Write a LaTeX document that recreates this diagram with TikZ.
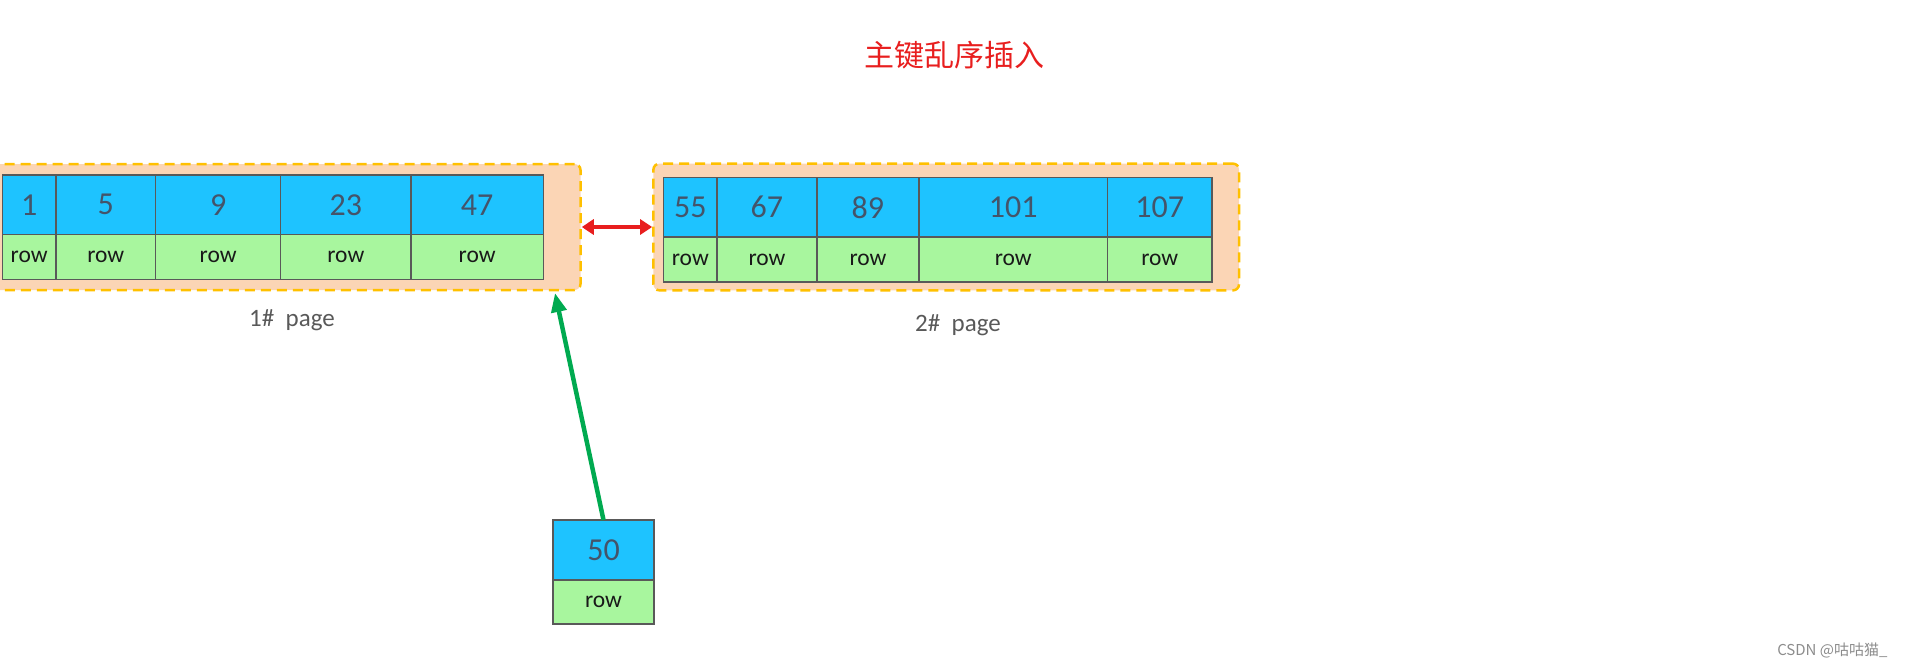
\documentclass[tikz,border=0pt]{standalone}
\usepackage{fontspec}
\setmainfont{Carlito}
\newfontfamily\cjk{Noto Sans CJK SC}
\usetikzlibrary{positioning, arrows.meta, calc}
\definecolor{keyblue}{RGB}{30,195,255}
\definecolor{rowgreen}{RGB}{168,246,158}
\definecolor{pagepeach}{RGB}{251,213,181}
\definecolor{pageedge}{RGB}{255,192,0}
\definecolor{numgrey}{RGB}{68,84,106}
\definecolor{cellline}{RGB}{89,89,89}
\definecolor{titlered}{RGB}{232,30,30}
\definecolor{arrowgreen}{RGB}{0,170,80}
\tikzset{
    cell/.style={draw=cellline, line width=1.3pt, inner sep=0pt, outer sep=0pt},
    keycell/.style={cell, fill=keyblue, text=numgrey, minimum width=#1, minimum height=59.5pt,
      font=\fontsize{32}{32}\selectfont},
    rowcell/.style={cell, fill=rowgreen, text=black!90, minimum width=#1, minimum height=45pt,
      font=\fontsize{23.5}{24}\selectfont},
    pagebox/.style={draw=pageedge, fill=pagepeach, line width=2.5pt, dash pattern=on 10pt off 6pt,
      rounded corners=6pt, inner sep=0pt},
    pagelabel/.style={text=black!65, font=\fontsize{25}{25}\selectfont},
}

\begin{document}
\begin{tikzpicture}[x=1pt, y=-1pt]
    \tikzset{
      linkarrow/.style={draw=titlered, line width=4pt, {Triangle[length=12pt, width=15pt]}-{Triangle[length=12pt, width=15pt]}},
      newarrow/.style={draw=arrowgreen, line width=4.5pt, -{Triangle[length=19pt, width=15pt]}}
    }
    \useasboundingbox (0,0) rectangle (1906,667);

    \node[text=titlered, font=\cjk\fontsize{30}{30}\selectfont] (title) at (954,55) {主键乱序插入};

    % pages
    \node[pagebox, minimum width=590.5pt, minimum height=126pt] (page1) at (285.25,227) {};
    \node[pagebox, minimum width=585.6pt, minimum height=126.7pt] (page2) at (946.2,227) {};

    \node[keycell=53.5pt, anchor=north west] (x1) at (2.4,175) {1};
    \node[keycell=99.7pt, right=0pt of x1] (x2) {5};
    \node[keycell=125.2pt, right=0pt of x2] (x3) {9};
    \node[keycell=130.1pt, right=0pt of x3] (x4) {23};
    \node[keycell=132.5pt, right=0pt of x4] (x5) {47};

    \node[rowcell=53.5pt, below=0pt of x1] (u1) {row};
    \node[rowcell=99.7pt, below=0pt of x2] (u2) {row};
    \node[rowcell=125.2pt, below=0pt of x3] (u3) {row};
    \node[rowcell=130.1pt, below=0pt of x4] (u4) {row};
    \node[rowcell=132.5pt, below=0pt of x5] (u5) {row};

    \node[pagelabel] (l1) at (292,320) {1\#\ \ page};

    \node[keycell=53.3pt, anchor=north west] (y1) at (663.7,177.5) {55};
    \node[keycell=99.9pt, right=0pt of y1] (y2) {67};
    \node[keycell=102.1pt, right=0pt of y2] (y3) {89};
    \node[keycell=188.5pt, right=0pt of y3] (y4) {101};
    \node[keycell=104.5pt, right=0pt of y4] (y5) {107};

    \node[rowcell=53.3pt, below=0pt of y1] (v1) {row};
    \node[rowcell=99.9pt, below=0pt of y2] (v2) {row};
    \node[rowcell=102.1pt, below=0pt of y3] (v3) {row};
    \node[rowcell=188.5pt, below=0pt of y4] (v4) {row};
    \node[rowcell=104.5pt, below=0pt of y5] (v5) {row};

    \node[pagelabel] (l2) at (958,325) {2\#\ \ page};

    \draw[linkarrow] (page1.east) -- (page2.west);

    % new record
    \node[keycell=101pt, minimum height=60pt, anchor=north west] (z0) at (553,520) {50};
    \node[rowcell=101pt, minimum height=44pt, below=0pt of z0] (w0) {row};

    \coordinate (hit) at (555,293);
    \draw[newarrow] (z0.north) -- (hit);

    \node[text=black!45, font=\cjk\fontsize{15}{15}\selectfont, anchor=east] (mark) at (1891,650) {CSDN @咕咕猫\_};
\end{tikzpicture}
\end{document}
